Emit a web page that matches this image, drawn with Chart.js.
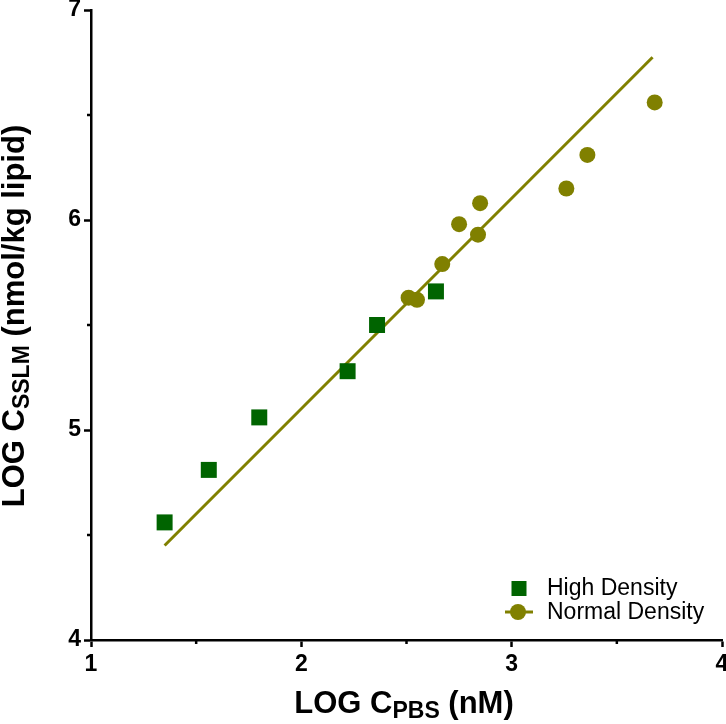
<!DOCTYPE html>
<html>
<head>
<meta charset="utf-8">
<script src="https://cdn.jsdelivr.net/npm/chart.js@4"></script>
<style>
  html, body { margin: 0; padding: 0; background: #fff; }
  #wrap { width: 726px; height: 724px; }
</style>
</head>
<body>
<div id="wrap"><canvas id="c" width="726" height="724"></canvas></div>
<script>
// values
var highX = [1.35, 1.56, 1.80, 2.22, 2.36, 2.64];
var highY = [4.56, 4.81, 5.06, 5.28, 5.50, 5.66];
var normalX = [2.51, 2.55, 2.67, 2.75, 2.84, 2.85, 3.26, 3.36, 3.68];
var normalY = [5.63, 5.62, 5.79, 5.98, 5.93, 6.08, 6.15, 6.31, 6.56];
var fitX = [1.35, 3.67];
var fitY = [4.45, 6.775];
var minorTicks = [1.5, 2.5, 3.5];
var minorTicksY = [4.5, 5.5, 6.5];

var FONT = '"Liberation Sans", Arial, sans-serif';
var green = '#006400';
var olive = '#808000';

function pts(xs, ys) {
    return xs.map(function(x, i){ return {x: x, y: ys[i]}; });
}

// axis titles with subscripts
function drawParts(ctx, parts, x, y) {
    var w = 0;
    parts.forEach(function(p){
        ctx.font = 'bold ' + p.size + 'px ' + FONT;
        p.w = ctx.measureText(p.t).width;
        w += p.w;
    });
    var cx = x - w / 2;
    parts.forEach(function(p){
        ctx.font = 'bold ' + p.size + 'px ' + FONT;
        ctx.fillText(p.t, cx, y + (p.dy || 0));
        cx += p.w;
    });
}

var extras = {
    id: 'extras',
    afterDraw: function(chart) {
        var ctx = chart.ctx;
        var xs = chart.scales.x, ys = chart.scales.y;
        var area = chart.chartArea;
        ctx.save();
        // minor ticks
        ctx.strokeStyle = '#000';
        ctx.lineWidth = 2.5;
        minorTicks.forEach(function(v){
            var px = xs.getPixelForValue(v);
            ctx.beginPath(); ctx.moveTo(px, area.bottom); ctx.lineTo(px, area.bottom + 4); ctx.stroke();
        });
        minorTicksY.forEach(function(v){
            var py = ys.getPixelForValue(v);
            ctx.beginPath(); ctx.moveTo(area.left, py); ctx.lineTo(area.left - 4, py); ctx.stroke();
        });

        ctx.fillStyle = '#000';
        ctx.textBaseline = 'alphabetic';
        ctx.textAlign = 'left';
        drawParts(ctx, [
            {t: 'LOG C', size: 31},
            {t: 'PBS', size: 23, dy: 5},
            {t: ' (nM)', size: 31}
        ], 404, 713);

        ctx.save();
        ctx.translate(24, 316);
        ctx.rotate(-Math.PI / 2);
        drawParts(ctx, [
            {t: 'LOG C', size: 31},
            {t: 'SSLM', size: 23, dy: 5},
            {t: ' (nmol/kg lipid)', size: 31}
        ], 0, 0);
        ctx.restore();

        // legend
        var ds = chart.data.datasets;
        ctx.font = '23px ' + FONT;
        ctx.fillStyle = green;
        ctx.fillRect(511.5, 581, 15, 15);
        ctx.strokeStyle = olive;
        ctx.lineWidth = 3;
        ctx.beginPath(); ctx.moveTo(505, 612); ctx.lineTo(533, 612); ctx.stroke();
        ctx.fillStyle = olive;
        ctx.beginPath(); ctx.arc(518, 612, 8, 0, Math.PI * 2); ctx.fill();
        ctx.fillStyle = '#000';
        ctx.fillText(ds[0].label, 547, 595);
        ctx.fillText(ds[1].label, 547, 619);
        ctx.restore();
    }
};

function fixX(scale) {
    scale.height = 84;
    scale.paddingLeft = 0; scale.paddingRight = 0;
    scale.paddingTop = 0; scale.paddingBottom = 0;
}
function fixY(scale) {
    scale.width = 91;
    scale.paddingLeft = 0; scale.paddingRight = 0;
    scale.paddingTop = 0; scale.paddingBottom = 0;
}

var ctx = document.getElementById('c').getContext('2d');
var myChart = new Chart(ctx, {
    type: 'scatter',
    data: {
        datasets: [{
            label: 'High Density',
            data: pts(highX, highY),
            pointStyle: 'rect',
            pointRadius: 11.3,
            pointBorderWidth: 0,
            backgroundColor: green,
            borderColor: green
        },
        {
            label: 'Normal Density',
            data: pts(normalX, normalY),
            pointStyle: 'circle',
            pointRadius: 8,
            pointBorderWidth: 0,
            backgroundColor: olive,
            borderColor: olive
        },
        {
            label: 'fit',
            data: pts(fitX, fitY),
            showLine: true,
            pointRadius: 0,
            borderColor: olive,
            borderWidth: 3,
            backgroundColor: 'transparent'
        }]
    },
    options: {
        responsive: false,
        animation: false,
        devicePixelRatio: 1,
        layout: { autoPadding: false, padding: { top: 10, right: 4, left: 0, bottom: 0 } },
        plugins: {
            legend: { display: false },
            tooltip: { enabled: false }
        },
        elements: { line: { tension: 0 } },
        scales: {
            x: {
                type: 'linear',
                min: 1, max: 4,
                afterFit: fixX,
                border: { color: '#000', width: 2.5 },
                grid: { drawOnChartArea: false, tickLength: 7, tickWidth: 2.5, tickColor: '#000' },
                ticks: {
                    stepSize: 1,
                    color: '#000',
                    padding: 4,
                    font: { family: FONT, size: 23, weight: 'bold' }
                }
            },
            y: {
                type: 'linear',
                min: 4, max: 7,
                afterFit: fixY,
                border: { color: '#000', width: 2.5 },
                grid: { drawOnChartArea: false, tickLength: 7, tickWidth: 2.5, tickColor: '#000' },
                ticks: {
                    stepSize: 1,
                    color: '#000',
                    padding: 3,
                    font: { family: FONT, size: 23, weight: 'bold' }
                }
            }
        }
    },
    plugins: [extras]
});
</script>
</body>
</html>
